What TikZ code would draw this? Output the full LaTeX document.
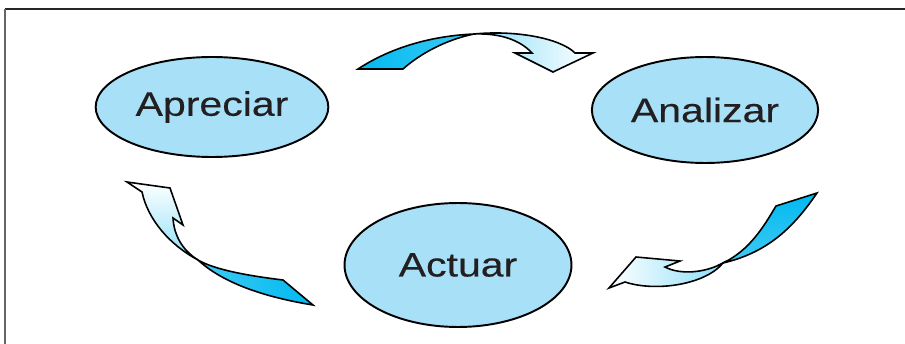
\documentclass[tikz,border=0pt]{standalone}
\usepackage{fontspec}
\setmainfont{Liberation Sans}
\newfontfamily\phasefont[FakeStretch=1.21,FakeBold=0.3]{Liberation Sans}
\usepackage{tikz}
\usetikzlibrary{shapes.geometric}
\definecolor{phasefill}{RGB}{168,224,248}
\definecolor{ribbonblue}{RGB}{0,185,240}
\definecolor{textdark}{RGB}{35,31,32}

\begin{document}
\begin{tikzpicture}[x=0.02cm,y=-0.02cm,
	phase/.style={ellipse,draw=black,line width=1.1pt,fill=phasefill,text=textdark,
		font=\phasefont\fontsize{19.3}{23}\selectfont},
	ribbon/.style={draw=black,line width=0.9pt,line join=miter}]
			\useasboundingbox (0,0) rectangle (905,344);
			
			% frame
			\draw[line width=1.2pt,black!85] (5,9) -- (905,9);
			\draw[line width=0.8pt,black!60] (5,9) -- (5,344);
			
			% phases
			\node[phase,minimum width=4.56cm,minimum height=2cm] (apreciar) at (212,107) {Apreciar};
			\node[phase,minimum width=4.52cm,minimum height=2.12cm] (analizar) at (705,110) {Analizar};
			\node[phase,minimum width=4.54cm,minimum height=2.48cm] (actuar) at (458,265) {Actuar};
			
			% top
			\shade[ribbon,left color=ribbonblue,right color=ribbonblue!75]
				(358,69) -- (403,69) .. controls (420,54) and (445,40) .. (474,34)
				.. controls (430,36) and (390,48) .. (358,69) -- cycle;
			\shade[ribbon,left color=ribbonblue!45,right color=white]
				(474,34) .. controls (515,30) and (560,38) .. (575,53)
				-- (593,53) -- (553,72) -- (515,53) -- (532,53)
				.. controls (520,40) and (500,33) .. (474,34) -- cycle;
			
			% right
			\shade[ribbon,top color=ribbonblue,bottom color=ribbonblue!75]
				(776,206) -- (817,193) .. controls (795,225) and (770,252) .. (723,263)
				.. controls (750,250) and (764,226) .. (776,206) -- cycle;
			\shade[ribbon,left color=white,right color=ribbonblue!45]
				(723,263) .. controls (705,273) and (680,275) .. (665,267)
				-- (680,261) -- (636,257) -- (609,288) -- (625,282)
				.. controls (655,292) and (705,285) .. (723,263) -- cycle;
			
			% left
			\shade[ribbon,left color=ribbonblue!75,right color=ribbonblue]
				(283,280) -- (313,305) .. controls (270,298) and (225,285) .. (198,260)
				.. controls (215,270) and (250,276) .. (283,280) -- cycle;
			\shade[ribbon,top color=white,bottom color=ribbonblue!45]
				(198,260) .. controls (170,245) and (148,220) .. (142,192)
				-- (127,182) -- (170,188) -- (183,225) -- (173,218)
				.. controls (174,235) and (182,250) .. (198,260) -- cycle;
		\end{tikzpicture}
\end{document}
